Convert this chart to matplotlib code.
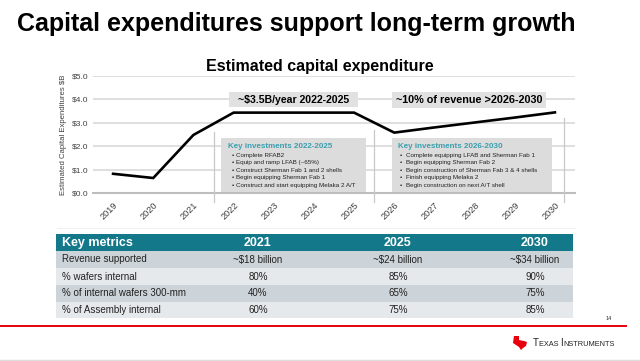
import matplotlib
matplotlib.use("Agg")
import matplotlib.pyplot as plt
from matplotlib.patches import Rectangle, Polygon
from matplotlib.lines import Line2D

plt.rcParams['font.family'] = ['Liberation Sans', 'DejaVu Sans']

# ---------------- data ----------------
years = ['2019', '2020', '2021', '2022', '2023', '2024', '2025',
         '2026', '2027', '2028', '2029', '2030']
capex = [0.83, 0.65, 2.48, 3.43, 3.43, 3.43, 3.43, 2.58, 2.80, 3.01, 3.22, 3.44]
ytick_vals = [0, 1, 2, 3, 4, 5]
ytick_labels = ['$0.0', '$1.0', '$2.0', '$3.0', '$4.0', '$5.0']

callout1 = '~$3.5B/year 2022-2025'
callout2 = '~10% of revenue >2026-2030'

inv1_title = 'Key investments 2022-2025'
inv1_items = ['Complete RFAB2',
              'Equip and ramp LFAB (~65%)',
              'Construct Sherman Fab 1 and 2 shells',
              'Begin equipping Sherman Fab 1',
              'Construct and start equipping Melaka 2 A/T']
inv2_title = 'Key investments 2026-2030'
inv2_items = ['Complete equipping LFAB and Sherman Fab 1',
              'Begin equipping Sherman Fab 2',
              'Begin construction of Sherman Fab 3 & 4 shells',
              'Finish equipping Melaka 2',
              'Begin construction on next A/T shell']

table_header = ['Key metrics', '2021', '2025', '2030']
table_metrics = ['Revenue supported', '% wafers internal',
                 '% of internal wafers 300-mm', '% of Assembly internal']
table_2021 = ['~$18 billion', '80%', '40%', '60%']
table_2025 = ['~$24 billion', '85%', '65%', '75%']
table_2030 = ['~$34 billion', '90%', '75%', '85%']

# ---------------- figure ----------------
W, H = 640, 361
fig = plt.figure(figsize=(W / 100, H / 100), dpi=100)
fig.patch.set_facecolor('white')


def fx(x):
    return x / W


def fy(y):
    return 1 - y / H


def prect(x0, y0, x1, y1, fc, z=1):
    fig.add_artist(Rectangle((fx(x0), fy(y1)), (x1 - x0) / W, (y1 - y0) / H,
                             transform=fig.transFigure, fc=fc, ec='none',
                             zorder=z))


# page title
fig.text(fx(17), fy(31), 'Capital expenditures support long-term growth',
         fontsize=18, fontweight='bold', color='black', ha='left', va='baseline')

# chart axes
ax_l, ax_r, ax_t, ax_b = 93, 575, 75.7, 193.3
ax = fig.add_axes([fx(ax_l), fy(ax_b), (ax_r - ax_l) / W, (ax_b - ax_t) / H])
x = list(range(len(years)))
ax.set_xlim(-0.5, len(years) - 0.5)
ax.set_ylim(0, 5)
for v in ytick_vals[1:]:
    ax.axhline(v, color='#dcdcdc', lw=1.3, zorder=1)
ax.axhline(0, color='#bdbdbd', lw=1.5, zorder=1, clip_on=False)
ax.plot(x, capex, color='black', lw=1.9, zorder=4, solid_joinstyle='miter')
for s in ax.spines.values():
    s.set_visible(False)
ax.set_yticks(ytick_vals)
ax.set_yticklabels(ytick_labels, fontsize=6, color='#404040')
ax.set_xticks(x)
ax.set_xticklabels(years, fontsize=6.6, color='#404040', rotation=45,
                   ha='right', rotation_mode='anchor')
ax.tick_params(length=0, pad=3)
ax.tick_params(axis='x', pad=5)
ax.set_ylabel('Estimated Capital Expenditures $B', fontsize=5.6, color='#404040',
              labelpad=4)
ax.set_facecolor('none')

# dividers
for xv, y_top in [(2.5, 131.7), (6.5, 130.0), (11.22, 118.0)]:
    ax.add_line(Line2D([xv, xv], [(ax_b - y_top) / (ax_b - ax_t) * 5,
                                  (ax_b - 201.7) / (ax_b - ax_t) * 5],
                       color='#c8c8c8', lw=0.9, clip_on=False, zorder=2))

fig.text(fx(320), fy(67), 'Estimated capital expenditure', fontsize=11.5,
         fontweight='bold', ha='center', va='center')

# callouts
prect(229, 92, 358, 107.5, '#e1e1e1', z=5)
fig.text(fx((229 + 358) / 2), fy(100), callout1, fontsize=7.6,
         fontweight='bold', ha='center', va='center', zorder=6)
prect(392, 92, 546, 108, '#e1e1e1', z=5)
fig.text(fx((392 + 546) / 2), fy(100.3), callout2, fontsize=7.8,
         fontweight='bold', ha='center', va='center', zorder=6)

# key investments boxes
for (x0, x1, title, items, tx, bx, ix) in [
        (221, 366, inv1_title, inv1_items, 228, 233, 236.5),
        (392, 552, inv2_title, inv2_items, 398, 401, 406.5)]:
    prect(x0, 138, x1, 192, '#dcdcdc', z=5)
    fig.text(fx(tx), fy(146.5), title, fontsize=5.8, fontweight='bold',
             color='#3b9fb0', ha='left', va='center', zorder=6)
    for i, it in enumerate(items):
        yy = 155 + i * 7.6
        fig.text(fx(bx), fy(yy), '•', fontsize=4.5, color='#222222',
                 ha='center', va='center', zorder=6)
        fig.text(fx(ix), fy(yy), it, fontsize=4.5, color='#222222',
                 ha='left', va='center', zorder=6)

# faint line under the chart
fig.add_artist(Line2D([fx(57), fx(575)], [fy(228), fy(228)], color='#f0f0f0',
                      lw=0.8, transform=fig.transFigure))

# ---------------- table ----------------
tl, tr = 56, 573
row_edges = [234, 251, 268, 285, 302, 318]
col_centers = [258, 398, 535]
prect(tl, row_edges[0], tr, row_edges[1], '#12788a')
hy = fy((row_edges[0] + row_edges[1]) / 2 + 0.5)
fig.text(fx(62), hy, table_header[0], fontsize=9, fontweight='bold',
         color='white', ha='left', va='center')
for c, lab in zip(col_centers, table_header[1:]):
    fig.text(fx(c), hy, lab, fontsize=9, fontweight='bold', color='white',
             ha='center', va='center')
for i, m in enumerate(table_metrics):
    top, bot = row_edges[i + 1], row_edges[i + 2]
    prect(tl, top, tr, bot, '#cdd4d9' if i % 2 == 0 else '#e6e9eb')
    yc = fy((top + bot) / 2)
    fig.text(fx(62), yc, m, fontsize=7, color='#222222', ha='left', va='center')
    for c, col in zip(col_centers, [table_2021, table_2025, table_2030]):
        fig.text(fx(c), yc, col[i], fontsize=7, color='#222222',
                 ha='center', va='center')

# ---------------- footer ----------------
fig.add_artist(Line2D([0, fx(626)], [fy(326), fy(326)], color='#e8000d', lw=1.4,
                      transform=fig.transFigure))
fig.text(fx(609), fy(319), '14', fontsize=4, color='#333333', ha='center',
         va='center')
fig.add_artist(Line2D([0, 1], [fy(360), fy(360)], color='#dddddd', lw=1,
                      transform=fig.transFigure))

# TI logo (simplified Texas shape)
cx, cy = 520, 342
pts = [(-6, -6), (-1, -6), (-1, -2), (4, -1), (7, 0), (6, 4), (3, 6), (1, 8),
       (-1, 5), (-4, 3), (-7, 1)]
fig.add_artist(Polygon([(fx(cx + px), fy(cy + py)) for px, py in pts],
                       closed=True, transform=fig.transFigure, fc='#e8000d',
                       ec='none'))
t1 = fig.text(fx(533), fy(345.5), 'T', fontsize=7, color='#222222',
              ha='left', va='baseline')
a1 = fig.text(0, 0, '')
a1 = plt.annotate('EXAS ', xy=(1, 0), xycoords=t1, fontsize=5.3,
                  color='#222222', va='bottom', ha='left',
                  annotation_clip=False)
a2 = plt.annotate('I', xy=(1, 0), xycoords=a1, fontsize=7, color='#222222',
                  va='bottom', ha='left', annotation_clip=False)
a3 = plt.annotate('NSTRUMENTS', xy=(1, 0), xycoords=a2, fontsize=5.3,
                  color='#222222', va='bottom', ha='left', annotation_clip=False)

fig.savefig('out.png', dpi=100)
